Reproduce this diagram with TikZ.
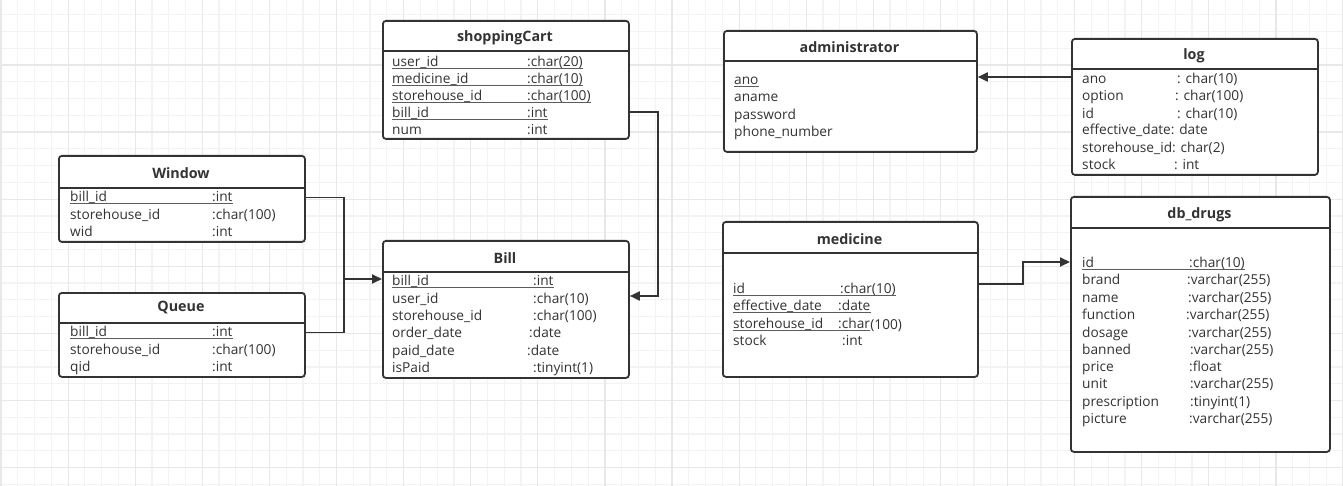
\documentclass[tikz,border=0pt]{standalone}
\usepackage{fontspec}
\setmainfont{Open Sans}
\usetikzlibrary{arrows.meta}
\definecolor{ink}{RGB}{51,51,51}
\definecolor{gridminor}{RGB}{243,243,243}
\definecolor{gridmajor}{RGB}{232,232,232}
\tikzset{
  tbl/.style={draw=ink, line width=1.8pt, rounded corners=3pt, fill=white, anchor=north west, inner sep=0pt},
  ttl/.style={text=ink, font=\bfseries\fontsize{14.3}{16}\selectfont, inner sep=0pt, yshift=-1pt},
  fld/.style={text=ink, font=\fontsize{13.7}{16}\selectfont, anchor=mid west, inner sep=0pt, yshift=-1.5pt},
  ul/.style={draw=ink!80, line width=0.8pt},
  link/.style={draw=ink, line width=1.8pt},
  conn/.style={link, -{Triangle[length=10pt,width=9pt]}},
}

\begin{document}
\begin{tikzpicture}[x=1pt,y=-1pt]
        \useasboundingbox[fill=white] (0,0) rectangle (1343,486);
        % grid
        \foreach \i in {0,...,80} \draw[gridminor, line width=1.2pt] (1+16.775*\i,0) -- ++(0,486);
        \foreach \i in {0,...,29} \draw[gridminor, line width=1.2pt] (0,-2.1+16.775*\i) -- ++(1343,0);
        \foreach \i in {0,...,20} \draw[gridmajor, line width=1.2pt] (1+67.1*\i,0) -- ++(0,486);
        \foreach \i in {0,...,7} \draw[gridmajor, line width=1.2pt] (0,-2.1+67.1*\i) -- ++(1343,0);

        % shoppingCart
        \node[tbl, minimum width=246pt, minimum height=118pt] (cart) at (382,20) {};
        \draw[link] (382,51) -- (628,51);
        \node[ttl] at (505,37) {shoppingCart};
        \node[fld] (c1) at (392,62.5) {user\_id};
        \node[fld] (c1t) at (527,62.5) {:char(20)};
        \node[fld] (c2) at (392,79) {medicine\_id};
        \node[fld] (c2t) at (527,79) {:char(10)};
        \node[fld] (c3) at (392,96) {storehouse\_id};
        \node[fld] (c3t) at (527,96) {:char(100)};
        \node[fld] (c4) at (392,113) {bill\_id};
        \node[fld] (c4t) at (527,113) {:int};
        \node[fld] (c5) at (392,130) {num};
        \node[fld] (c5t) at (527,130) {:int};
        \draw[ul] ([yshift=-2pt]c1.base west) -- ([yshift=-2pt]c1t.base east);
        \draw[ul] ([yshift=-2pt]c2.base west) -- ([yshift=-2pt]c2t.base east);
        \draw[ul] ([yshift=-2pt]c3.base west) -- ([yshift=-2pt]c3t.base east);
        \draw[ul] ([yshift=-2pt]c4.base west) -- ([yshift=-2pt]c4t.base east);

        % Window
        \node[tbl, minimum width=246pt, minimum height=86pt] (win) at (58,155) {};
        \draw[link] (58,188) -- (304,188);
        \node[ttl] at (181,172) {Window};
        \node[fld] (w1) at (70,197.5) {bill\_id};
        \node[fld] (w1t) at (212,197.5) {:int};
        \node[fld] (w2) at (70,215) {storehouse\_id};
        \node[fld] (w2t) at (212,215) {:char(100)};
        \node[fld] (w3) at (70,232) {wid};
        \node[fld] (w3t) at (212,232) {:int};
        \draw[ul] ([yshift=-2pt]w1.base west) -- ([yshift=-2pt]w1t.base east);

        % Queue
        \node[tbl, minimum width=246pt, minimum height=84pt] (que) at (58,292) {};
        \draw[link] (58,323) -- (304,323);
        \node[ttl] at (181,307) {Queue};
        \node[fld] (q1) at (70,332.5) {bill\_id};
        \node[fld] (q1t) at (212,332.5) {:int};
        \node[fld] (q2) at (70,350) {storehouse\_id};
        \node[fld] (q2t) at (212,350) {:char(100)};
        \node[fld] (q3) at (70,367) {qid};
        \node[fld] (q3t) at (212,367) {:int};
        \draw[ul] ([yshift=-2pt]q1.base west) -- ([yshift=-2pt]q1t.base east);

        % Bill
        \node[tbl, minimum width=246pt, minimum height=137pt] (bill) at (382,240) {};
        \draw[link] (382,272) -- (628,272);
        \node[ttl] at (505,257) {Bill};
        \node[fld] (b1) at (392,281.5) {bill\_id};
        \node[fld] (b1t) at (533,281.5) {:int};
        \node[fld] (b2) at (392,299) {user\_id};
        \node[fld] (b2t) at (533,299) {:char(10)};
        \node[fld] (b3) at (392,316.5) {storehouse\_id};
        \node[fld] (b3t) at (533,316.5) {:char(100)};
        \node[fld] (b4) at (392,333.5) {order\_date};
        \node[fld] (b4t) at (529,333.5) {:date};
        \node[fld] (b5) at (392,351) {paid\_date};
        \node[fld] (b5t) at (527,351) {:date};
        \node[fld] (b6) at (392,368) {isPaid};
        \node[fld] (b6t) at (533,368) {:tinyint(1)};
        \draw[ul] ([yshift=-2pt]b1.base west) -- ([yshift=-2pt]b1t.base east);

        % administrator
        \node[tbl, minimum width=253pt, minimum height=121pt] (adm) at (723,30) {};
        \draw[link] (723,61) -- (976,61);
        \node[ttl] at (849.5,46) {administrator};
        \node[fld] (a1) at (734,80) {ano};
        \node[fld] (a2) at (734,97.5) {aname};
        \node[fld] (a3) at (734,115) {password};
        \node[fld] (a4) at (734,132) {phone\_number};
        \draw[ul] ([yshift=-2pt]a1.base west) -- ([yshift=-2pt]a1.base east);

        % log
        \node[tbl, minimum width=246pt, minimum height=136pt] (log) at (1071,38) {};
        \draw[link] (1071,69) -- (1317,69);
        \node[ttl] at (1194,54.5) {log};
        \node[fld] (l1) at (1082,79) {ano};
        \node[fld] (l1t) at (1177,79) {: char(10)};
        \node[fld] (l2) at (1082,96.5) {option};
        \node[fld] (l2t) at (1175,96.5) {: char(100)};
        \node[fld] (l3) at (1082,114) {id};
        \node[fld] (l3t) at (1177,114) {: char(10)};
        \node[fld] (l4) at (1082,130.5) {effective\_date: date};
        \node[fld] (l5) at (1082,148) {storehouse\_id: char(2)};
        \node[fld] (l6) at (1082,165.5) {stock};
        \node[fld] (l6t) at (1174,165.5) {: int};

        % medicine
        \node[tbl, minimum width=255pt, minimum height=155pt] (med) at (722,221) {};
        \draw[link] (722,253) -- (977,253);
        \node[ttl] at (849.5,238.5) {medicine};
        \node[fld] (m1) at (733,289) {id};
        \node[fld] (m1t) at (840,289) {:char(10)};
        \node[fld] (m2) at (733,306.5) {effective\_date};
        \node[fld] (m2t) at (838,306.5) {:date};
        \node[fld] (m3) at (733,324) {storehouse\_id};
        \node[fld] (m3t) at (838,324) {:char};
        \node[fld, anchor=base west, yshift=0pt] (m3u) at (m3t.base east) {(100)};
        \node[fld] (m4) at (733,341) {stock};
        \node[fld] (m4t) at (842,341) {:int};
        \draw[ul] ([yshift=-2pt]m1.base west) -- ([yshift=-2pt]m1t.base east);
        \draw[ul] ([yshift=-2pt]m2.base west) -- ([yshift=-2pt]m2t.base east);
        \draw[ul] ([yshift=-2pt]m3.base west) -- ([yshift=-2pt]m3t.base east);

        % db_drugs
        \node[tbl, minimum width=259pt, minimum height=255pt] (drg) at (1070,196) {};
        \draw[link] (1070,228) -- (1329,228);
        \node[ttl] at (1199.5,213.5) {db\_drugs};
        \node[fld] (d1) at (1082,263) {id};
        \node[fld] (d1t) at (1189,263) {:char(10)};
        \node[fld] (d2) at (1082,280.5) {brand};
        \node[fld] (d2t) at (1187,280.5) {:varchar(255)};
        \node[fld] (d3) at (1082,298) {name};
        \node[fld] (d3t) at (1188,298) {:varchar(255)};
        \node[fld] (d4) at (1082,315) {function};
        \node[fld] (d4t) at (1186,315) {:varchar(255)};
        \node[fld] (d5) at (1082,333) {dosage};
        \node[fld] (d5t) at (1188,333) {:varchar(255)};
        \node[fld] (d6) at (1082,350) {banned};
        \node[fld] (d6t) at (1190,350) {:varchar(255)};
        \node[fld] (d7) at (1082,367.5) {price};
        \node[fld] (d7t) at (1189,367.5) {:float};
        \node[fld] (d8) at (1082,384) {unit};
        \node[fld] (d8t) at (1190,384) {:varchar(255)};
        \node[fld] (d9) at (1082,402) {prescription};
        \node[fld] (d9t) at (1190,402) {:tinyint(1)};
        \node[fld] (d10) at (1082,419) {picture};
        \node[fld] (d10t) at (1189,419) {:varchar(255)};
        \draw[ul] ([yshift=-2pt]d1.base west) -- ([yshift=-2pt]d1t.base east);

        % connectors
        \coordinate (jn) at (344,279);
        \coordinate (kc) at (658,296);
        \coordinate (km) at (1023,284);
        \draw[link] (win.east |- 0,197.5) -| (jn);
        \draw[link] (que.east |- 0,332.5) -| (jn);
        \draw[conn] (jn) -- (bill.west |- jn);
        \draw[conn] (cart.east |- 0,112) -| (kc) -- (bill.east |- kc);
        \draw[conn] (log.west |- 0,77) -- (adm.east |- 0,77);
        \draw[conn] (med.east |- km) -- (km) |- (drg.west |- 0,262);
      \end{tikzpicture}
\end{document}
